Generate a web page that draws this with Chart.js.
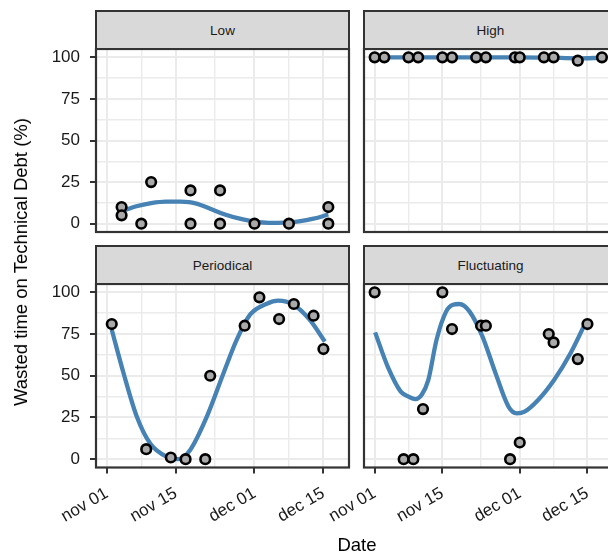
<!DOCTYPE html>
<html><head><meta charset="utf-8">
<script src="https://cdn.jsdelivr.net/npm/chart.js@4.4.0/dist/chart.umd.min.js"></script>
<style>
html,body{margin:0;padding:0;background:#fff;overflow:hidden;width:608px;height:555px;position:relative;}
canvas{position:absolute;left:0;top:0;}
.strip{position:absolute;background:#D9D9D9;border:2px solid #333;box-sizing:border-box;font:13.5px "Liberation Sans",Arial,sans-serif;color:#1a1a1a;display:flex;align-items:center;justify-content:center;}
.atitle{position:absolute;font:18.5px "Liberation Sans",Arial,sans-serif;color:#000;white-space:nowrap;transform:translate(-50%,-50%);}
</style></head><body>
<script>
// ---- data (dates are 2019) ----
const lowDates = ['11-04','11-04','11-08','11-10','11-18','11-18','11-24','11-24','12-01','12-08','12-16','12-16'];
const lowValues = [10,5,0,25,20,0,20,0,0,0,10,0];
const highDates = ['11-01','11-03','11-08','11-10','11-15','11-17','11-22','11-24','11-30','12-01','12-06','12-08','12-13','12-18'];
const highValues = [100,100,100,100,100,100,100,100,100,100,100,100,98,100];
const periodicalDates = ['11-02','11-09','11-14','11-17','11-21','11-22','11-29','12-02','12-06','12-09','12-13','12-15'];
const periodicalValues = [81,6,1,0,0,50,80,97,84,93,86,66];
const fluctuatingDates = ['11-01','11-07','11-09','11-11','11-15','11-17','11-23','11-24','11-29','12-01','12-07','12-08','12-13','12-15'];
const fluctuatingValues = [100,0,0,30,100,78,80,80,0,10,75,70,60,81];

// smoothed trend curves (x = days after Nov 01)
const lowCurveDays = [3,6,9,12,15,18,21,24,27,30,33,36,39,42,45];
const lowCurveValues = [7.5,10.5,12.4,13.3,13.2,12.2,9,5.5,3,1.2,0.5,0.6,1.4,3,5.5];
const highCurveDays = [0,10,20,30,36,42,47];
const highCurveValues = [100,100,100,100,99.8,99.4,99.7];
const periodicalCurveDays = [1,3.4,6.1,8.8,12.2,14.5,16.9,20.3,23.7,26.4,29.1,32.5,34.8,37.9,41.2,44.3];
const periodicalCurveValues = [77.6,51.5,25.4,9.4,1.4,0,5.4,25.4,51.5,71.6,86.6,93.2,95,92.6,83.6,70.5];
const fluctuatingCurveDays = [0.1,2.7,5.4,6.7,8.4,9.8,11.1,12.8,14.8,16.2,17.5,19.6,22.3,25,27.7,29.4,31,33.8,37.1,40.5,43.9];
const fluctuatingCurveValues = [76,55.5,40.5,37.9,36,38.9,47.5,71.6,88.6,92.6,93,88.6,73.5,51.5,31.4,27.5,28.5,35.5,47.5,63.5,83.6];

const xTickDays = [0,14,30,44];
const xTickLabels = ['nov 01','nov 15','dec 01','dec 15'];
const xMinorDays = [7,22,37];
const yTickValues = [0,25,50,75,100];
const yMinorValues = [12.5,37.5,62.5,87.5];
const facetNames = ['Low','High','Periodical','Fluctuating'];

// ---- helpers ----
function dayOf(md){
  const [m,d] = md.split('-').map(Number);
  return (Date.UTC(2019,m-1,d) - Date.UTC(2019,10,1)) / 86400000;
}
const W = 620, H = 555;
const FONT = '"Liberation Sans", Arial, sans-serif';

const layouts = [
  {left:96, right:349, top:49, bottom:232, yAxis:true, xAxis:false, stripTop:11},
  {left:364, right:617, top:49, bottom:232, yAxis:false, xAxis:false, stripTop:11},
  {left:96, right:349, top:284, bottom:467.5, yAxis:true, xAxis:true, stripTop:246},
  {left:364, right:617, top:284, bottom:467.5, yAxis:false, xAxis:true, stripTop:246}
];
const series = [
  [lowDates, lowValues, lowCurveDays, lowCurveValues],
  [highDates, highValues, highCurveDays, highCurveValues],
  [periodicalDates, periodicalValues, periodicalCurveDays, periodicalCurveValues],
  [fluctuatingDates, fluctuatingValues, fluctuatingCurveDays, fluctuatingCurveValues]
];

const borderPlugin = {
  id:'panelBorder',
  afterDraw(chart){
    const a = chart.chartArea, c = chart.ctx;
    c.save(); c.strokeStyle = '#333'; c.lineWidth = 2.2;
    c.strokeRect(a.left, a.top, a.right - a.left, a.bottom - a.top);
    c.restore();
  }
};

const xAll = xTickDays.concat(xMinorDays).sort((a,b)=>a-b);
const yAll = yTickValues.concat(yMinorValues).sort((a,b)=>a-b);

layouts.forEach((p, i) => {
  const s = document.createElement('div');
  s.className = 'strip';
  s.style.left = (p.left - 1) + 'px';
  s.style.top = (p.stripTop - 1) + 'px';
  s.style.width = (p.right - p.left + 2) + 'px';
  s.style.height = (p.top - p.stripTop + 2) + 'px';
  s.textContent = facetNames[i];

  const cv = document.createElement('canvas');
  cv.width = W; cv.height = H;
  document.body.appendChild(cv);
  document.body.appendChild(s);

  const [dates, vals, cx, cy] = series[i];
  const pts = dates.map((d, k) => ({x: dayOf(d), y: vals[k]}));
  const curve = cx.map((d, k) => ({x: d, y: cy[k]}));

  new Chart(cv, {
    type:'scatter',
    data:{datasets:[
      {data: pts, pointRadius:4.8, pointBackgroundColor:'#A9A9A9', pointBorderColor:'#000', pointBorderWidth:2.6, order:1, clip:false},
      {data: curve, showLine:true, pointRadius:0, borderColor:'#4682B4', borderWidth:4.3, cubicInterpolationMode:'monotone', order:2}
    ]},
    options:{
      responsive:false, animation:false, devicePixelRatio:1, events:[],
      layout:{padding:{left:0, top:p.top, right:W - p.right, bottom:0}},
      plugins:{legend:{display:false}, tooltip:{enabled:false}},
      scales:{
        x:{
          type:'linear', min:-2.2, max:49.2,
          afterBuildTicks: sc => { sc.ticks = xAll.map(v => ({value:v})); },
          afterFit: sc => { sc.height = H - p.bottom; },
          border:{display:false},
          grid:{
            color:'#EBEBEB',
            lineWidth: c => (c.tick && xTickDays.includes(c.tick.value)) ? 2.0 : 1.4,
            drawTicks: p.xAxis, tickLength:6, tickWidth:2,
            tickColor: c => (c.tick && xTickDays.includes(c.tick.value)) ? '#333' : 'rgba(0,0,0,0)'
          },
          ticks:{
            display: p.xAxis, autoSkip:false, maxRotation:30, minRotation:30, padding:10,
            color:'#1a1a1a', font:{family:FONT, size:17},
            callback: v => { const k = xTickDays.indexOf(v); return k >= 0 ? xTickLabels[k] : ''; }
          }
        },
        y:{
          type:'linear', min:-5, max:105,
          afterBuildTicks: sc => { sc.ticks = yAll.map(v => ({value:v})); },
          afterFit: sc => { sc.width = p.left; },
          border:{display:false},
          grid:{
            color:'#EBEBEB',
            lineWidth: c => (c.tick && yTickValues.includes(c.tick.value)) ? 2.0 : 1.4,
            drawTicks: p.yAxis, tickLength:6, tickWidth:2,
            tickColor: c => (c.tick && yTickValues.includes(c.tick.value)) ? '#333' : 'rgba(0,0,0,0)'
          },
          ticks:{
            display: p.yAxis, autoSkip:false, padding:10,
            color:'#1a1a1a', font:{family:FONT, size:17},
            callback: v => yTickValues.includes(v) ? String(v) : ''
          }
        }
      }
    },
    plugins:[borderPlugin]
  });
});

const yt = document.createElement('div');
yt.className = 'atitle';
yt.textContent = 'Wasted time on Technical Debt (%)';
yt.style.left = '21px'; yt.style.top = '262px';
yt.style.transform = 'translate(-50%,-50%) rotate(-90deg)';
document.body.appendChild(yt);
const xt = document.createElement('div');
xt.className = 'atitle';
xt.textContent = 'Date';
xt.style.left = '357px'; xt.style.top = '545px';
document.body.appendChild(xt);
</script>
</body></html>
